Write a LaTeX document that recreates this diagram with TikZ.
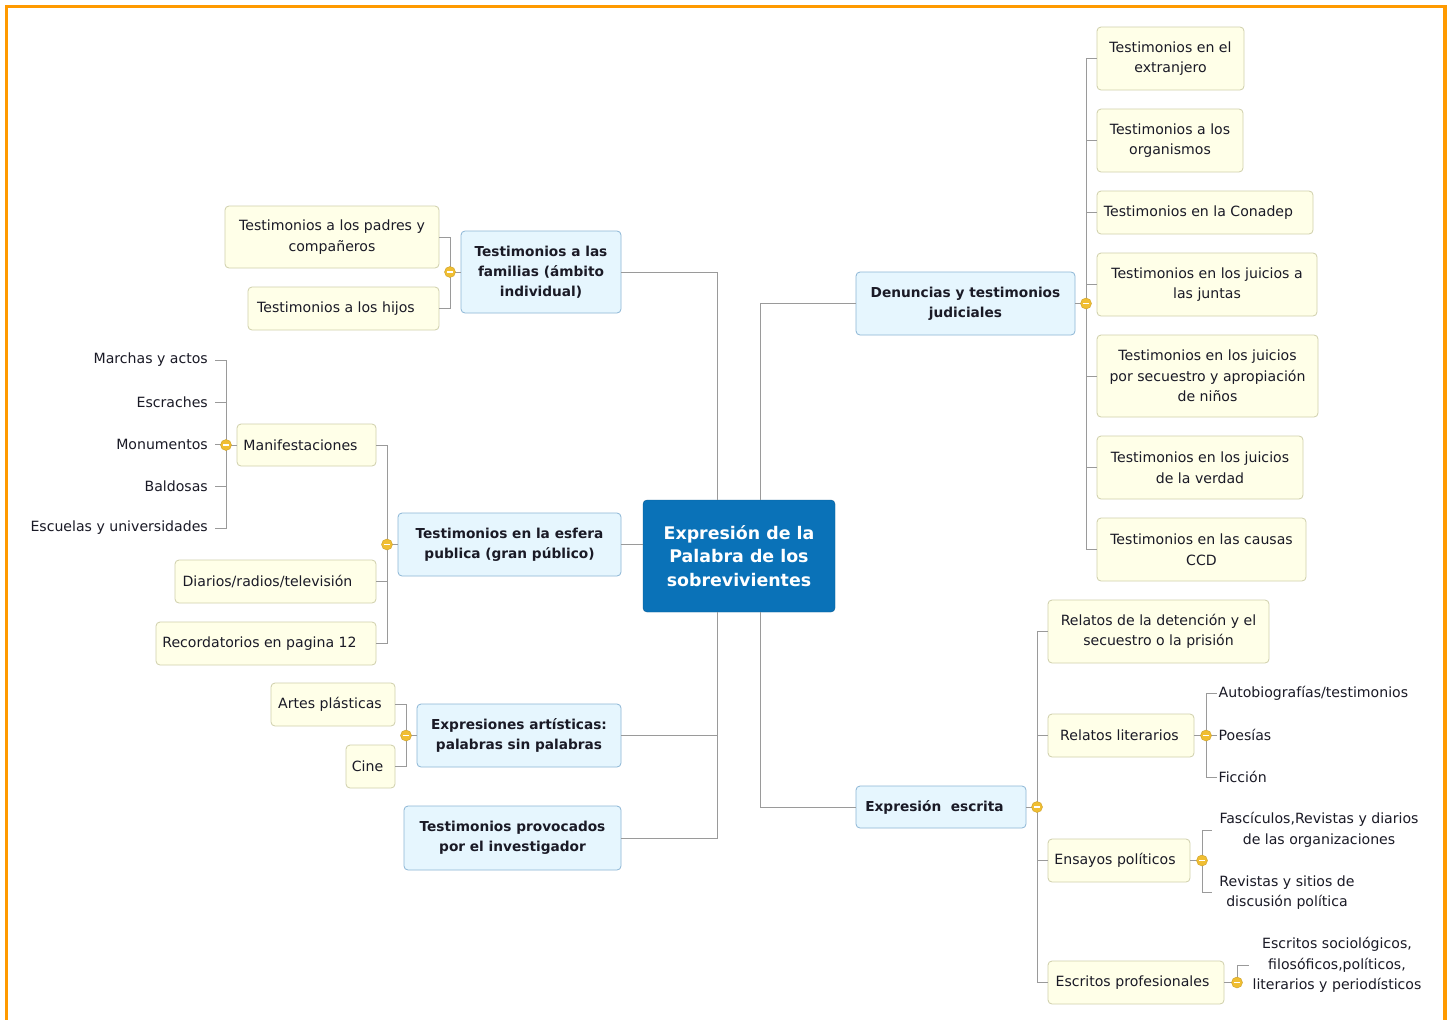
\documentclass[tikz,border=0pt]{standalone}
\usepackage{fontspec}
\setmainfont{DejaVu Sans}
\usetikzlibrary{calc}
\definecolor{cblue}{HTML}{0A72B8}
\definecolor{mfill}{HTML}{E6F6FE}
\definecolor{mdraw}{HTML}{8CB6D6}
\definecolor{sfill}{HTML}{FFFFE8}
\definecolor{sdraw}{HTML}{CFCFAA}
\definecolor{lgray}{HTML}{9A9A9A}
\definecolor{knobc}{HTML}{F0BE32}
\definecolor{txt}{HTML}{1A1A26}
\definecolor{frame}{HTML}{FF9A00}
\newcommand\padr[2][12]{\mbox{#2\kern#1pt}}
\tikzset{
  central/.style={draw=cblue!80!black, fill=cblue, rounded corners=4pt, text=white, align=center,
    font=\fontsize{17.4}{23.5}\selectfont\bfseries, inner sep=0pt},
  main/.style={draw=mdraw, fill=mfill, rounded corners=4pt, text=txt, align=center,
    font=\fontsize{13.7}{20}\selectfont\bfseries, inner sep=0pt, line width=0.8pt},
  sub/.style={draw=sdraw, fill=sfill, rounded corners=4pt, text=txt, align=center,
    font=\fontsize{14.1}{20.5}\selectfont, inner sep=0pt, line width=0.8pt},
  plain/.style={text=txt, align=center, font=\fontsize{14.1}{20.5}\selectfont, inner ysep=0pt},
  conn/.style={draw=lgray, line width=0.9pt},
  knob/.style={circle, fill=knobc, draw=knobc!85!black, line width=0.4pt, minimum size=11pt, inner sep=0pt,
    path picture={\draw[white, line width=1.4pt] ([xshift=-2.6pt]path picture bounding box.center) -- ([xshift=2.6pt]path picture bounding box.center);}}
}
\begin{document}
\begin{tikzpicture}[x=1pt, y=-1pt]
\useasboundingbox (0,0) rectangle (1454,1020);
\fill[white] (0,0) rectangle (1454,1020);
\draw[frame, line width=3.5pt] (6.5,1030) -- (6.5,6.5) -- (1445,6.5) -- (1445,1030);

% central
\node[central, minimum width=192pt, minimum height=112pt] (c) at (739,556) {Expresión de la\\Palabra de los\\sobrevivientes};

% main topics
\node[main, minimum width=160pt, minimum height=82pt] (fam) at (541,272) {Testimonios a las\\familias (ámbito\\individual)};
\node[main, minimum width=223pt, minimum height=63pt] (esf) at (509.5,544.5) {Testimonios en la esfera\\publica (gran público)};
\node[main, minimum width=204pt, minimum height=63pt] (art) at (519,735.5) {Expresiones artísticas:\\palabras sin palabras};
\node[main, minimum width=217pt, minimum height=64pt] (prov) at (512.5,838) {Testimonios provocados\\por el investigador};
\node[main, minimum width=219pt, minimum height=63pt] (den) at (965.5,303.5) {Denuncias y testimonios\\judiciales};
\node[main, minimum width=170pt, minimum height=42pt] (esc) at (941,807) {\padr[13]{Expresión~~escrita}};

% left subtopics
\node[sub, minimum width=214pt, minimum height=62pt] (padres) at (332,237) {Testimonios a los padres y\\compañeros};
\node[sub, minimum width=191pt, minimum height=43pt] (hijos) at (343.5,308.5) {\padr[15]{Testimonios a los hijos}};
\node[sub, minimum width=139pt, minimum height=42pt] (manif) at (306.5,445) {\padr{Manifestaciones}};
\node[sub, minimum width=201pt, minimum height=43pt] (diar) at (275.5,581.5) {\padr[16]{Diarios/radios/televisión}};
\node[sub, minimum width=220pt, minimum height=43pt] (reco) at (266,643.5) {\padr[13]{Recordatorios en pagina 12}};
\node[sub, minimum width=124pt, minimum height=43pt] (artes) at (333,704.5) {\padr[6]{Artes plásticas}};
\node[sub, minimum width=49pt, minimum height=43pt] (cine) at (370.5,766.5) {\padr[6]{Cine}};

% manifestaciones children
\node[plain, anchor=east, inner xsep=7pt] (m1) at (215,360) {Marchas y actos};
\node[plain, anchor=east, inner xsep=7pt] (m2) at (215,402) {Escraches};
\node[plain, anchor=east, inner xsep=7pt] (m3) at (215,444) {Monumentos};
\node[plain, anchor=east, inner xsep=7pt] (m4) at (215,486) {Baldosas};
\node[plain, anchor=east, inner xsep=7pt] (m5) at (215,528) {Escuelas y universidades};

% right subtopics
\node[sub, minimum width=147pt, minimum height=63pt] (r1) at (1170.5,58.5) {Testimonios en el\\extranjero};
\node[sub, minimum width=146pt, minimum height=63pt] (r2) at (1170,140.5) {Testimonios a los\\organismos};
\node[sub, minimum width=216pt, minimum height=43pt] (r3) at (1205,212.5) {\padr[13]{Testimonios en la Conadep}};
\node[sub, minimum width=220pt, minimum height=63pt] (r4) at (1207,284.5) {Testimonios en los juicios a\\las juntas};
\node[sub, minimum width=221pt, minimum height=82pt] (r5) at (1207.5,376) {Testimonios en los juicios\\por secuestro y apropiación\\de niños};
\node[sub, minimum width=206pt, minimum height=63pt] (r6) at (1200,467.5) {Testimonios en los juicios\\de la verdad};
\node[sub, minimum width=209pt, minimum height=63pt] (r7) at (1201.5,549.5) {Testimonios en las causas\\CCD};

\node[sub, minimum width=221pt, minimum height=63pt] (e1) at (1158.5,631.5) {Relatos de la detención y el\\secuestro o la prisión};
\node[sub, minimum width=146pt, minimum height=43pt] (e2) at (1121,735.5) {\padr[3]{Relatos literarios}};
\node[sub, minimum width=142pt, minimum height=43pt] (e3) at (1119,860.5) {\padr[8]{Ensayos políticos}};
\node[sub, minimum width=176pt, minimum height=43pt] (e4) at (1136,982.5) {\padr[7]{Escritos profesionales}};

% plain right texts
\node[plain, anchor=west, inner xsep=1.5pt] (l1) at (1217,693) {Autobiografías/testimonios};
\node[plain, anchor=west, inner xsep=1.5pt] (l2) at (1217,735) {Poesías};
\node[plain, anchor=west, inner xsep=1.5pt] (l3) at (1217,777) {Ficción};
\node[plain] (p1) at (1319,830) {Fascículos,Revistas y diarios\\de las organizaciones};
\node[plain] (p2) at (1287,892.5) {Revistas y sitios de\\discusión política};
\node[plain] (s1) at (1337,965) {Escritos sociológicos,\\filosóficos,políticos,\\literarios y periodísticos};

% knob coordinates
\coordinate (kfam) at (450,272);
\coordinate (kesf) at (387,544.5);
\coordinate (kman) at (226,445);
\coordinate (kart) at (406,735.5);
\coordinate (kden) at (1086,303.5);
\coordinate (kesc) at (1037,807);
\coordinate (klit) at (1206,735.5);
\coordinate (kens) at (1202,860.5);
\coordinate (kpro) at (1237,982.5);
\coordinate (ctl) at ([xshift=-22pt]c.north);
\coordinate (ctr) at ([xshift=21pt]c.north);
\coordinate (cbl) at ([xshift=-22pt]c.south);
\coordinate (cbr) at ([xshift=21pt]c.south);

% central connectors
\draw[conn] (ctl) |- (fam.east);
\draw[conn] (esf.east) -- (esf.east -| c.west);
\draw[conn] (cbl) |- (art.east);
\draw[conn] (cbl) |- (prov.east);
\draw[conn] (ctr) |- (den.west);
\draw[conn] (cbr) |- (esc.west);

% familias
\draw[conn] (fam.west) -- (kfam);
\draw[conn] (kfam) |- (padres.east);
\draw[conn] (kfam) |- (hijos.east);
% esfera
\draw[conn] (esf.west) -- (kesf);
\draw[conn] (kesf) |- (manif.east);
\draw[conn] (kesf) |- (diar.east);
\draw[conn] (kesf) |- (reco.east);
% manifestaciones
\draw[conn] (manif.west) -- (kman);
\foreach \n in {m1,m2,m3,m4,m5} {\draw[conn] (kman) |- (\n.east);}
% artisticas
\draw[conn] (art.west) -- (kart);
\draw[conn] (kart) |- (artes.east);
\draw[conn] (kart) |- (cine.east);
% denuncias
\draw[conn] (den.east) -- (kden);
\foreach \n in {r1,r2,r3,r4,r5,r6,r7} {\draw[conn] (kden) |- (\n.west);}
% escrita
\draw[conn] (esc.east) -- (kesc);
\foreach \n in {e1,e2,e3,e4} {\draw[conn] (kesc) |- (\n.west);}
% relatos literarios
\draw[conn] (e2.east) -- (klit);
\foreach \n in {l1,l2,l3} {\draw[conn] (klit) |- (\n.west);}
% ensayos
\draw[conn] (e3.east) -- (kens);
\draw[conn] (kens) |- ([xshift=10pt]kens |- p1) coordinate (pp1);
\draw[conn] (kens) |- ([xshift=10pt]kens |- p2) coordinate (pp2);
% escritos profesionales
\draw[conn] (e4.east) -- (kpro);
\draw[conn] (kpro) |- (s1.west);

% knobs
\foreach \k in {kfam,kesf,kman,kart,kden,kesc,klit,kens,kpro} {\node[knob] at (\k) {};}
\end{tikzpicture}
\end{document}
